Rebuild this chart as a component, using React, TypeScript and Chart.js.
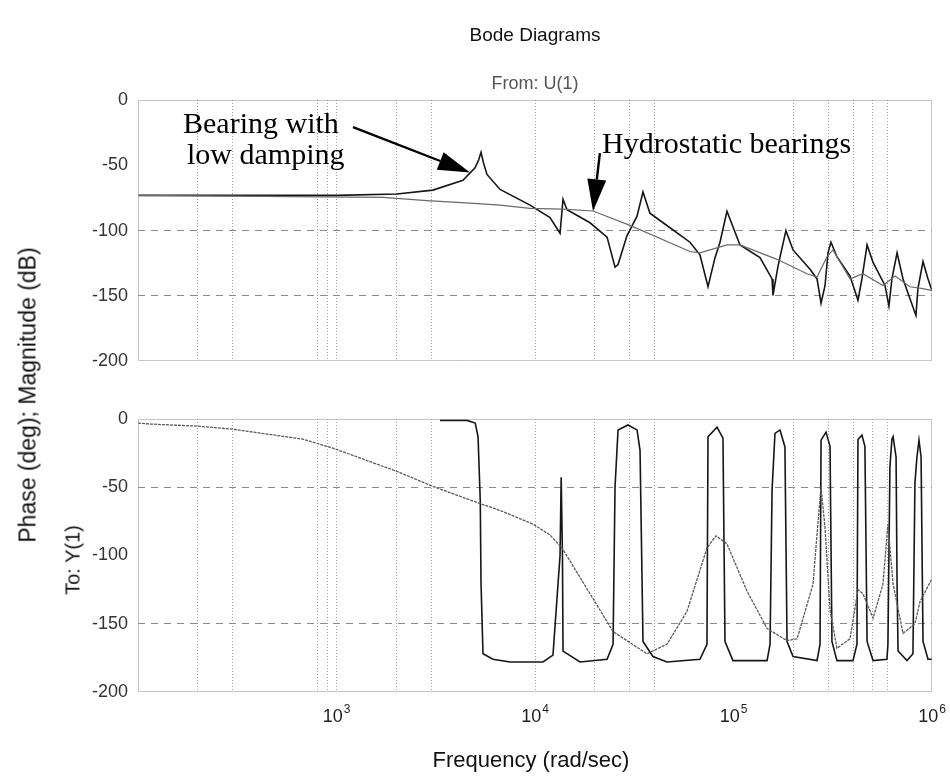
import React, { useEffect, useRef } from 'react';
import { Chart, registerables } from 'chart.js';

Chart.register(...registerables);

const FREQ_MIN = 100;
const FREQ_MAX = 1e6;

// Magnitude (dB), bearing with low damping
const magLowFreq = [
  100, 1000, 2018, 3061, 4335, 4989, 5200, 5346, 5500, 5728, 6668, 9440, 11905, 13370, 13840, 14500,
  18930, 23070, 25300, 26200, 29050, 32660, 35000, 37930, 47860, 60350, 67760, 74400, 80700, 85500,
  92700, 107800, 136000, 156400, 158100, 167500, 183700, 199500, 242900, 263500, 276100, 289200,
  299300, 309700, 331900, 386400, 423700, 443600, 470900, 504700, 579500, 606800, 628100, 666800,
  714500, 829900, 849300, 901000, 955000, 1000000,
];
const magLowDb = [
  -73, -73, -72, -69, -61.5, -52, -46, -40, -48, -57, -68.5, -80.5, -90, -102, -76, -84,
  -94, -105, -128, -126, -104, -89, -70.4, -86.7, -97.8, -108.9, -118.5, -143, -120.7, -108.9,
  -85.2, -111, -120.7, -137, -149.6, -127.4, -100, -114.8, -129.6, -137, -155.6, -142,
  -117, -108.9, -120, -134.8, -153.3, -137, -111, -124.4, -142, -157.8, -137, -117,
  -137, -165, -144.4, -123.7, -137, -146,
];

// Magnitude (dB), hydrostatic bearings
const magHydroFreq = [
  100, 1714, 2858, 4706, 6668, 9440, 13840, 19600, 30100, 60350, 67760, 92700, 107800, 165600,
  234500, 263500, 295800, 317000, 386400, 448700, 566200, 651600, 774500, 901000, 1000000,
];
const magHydroDb = [
  -73, -74.5, -77, -79, -80.5, -83, -83.5, -85, -96, -116, -117, -111, -111, -122,
  -133, -135.6, -120, -114.8, -137, -133, -142, -134.8, -143, -144.4, -146,
];

// Phase (deg), bearing with low damping
const phaseLowFreq = [
  3320, 4540, 5000, 5166, 5300, 5346, 5470, 6139, 7482, 10965, 12320, 13370, 13550, 13750, 13840,
  16860, 23070, 24730, 25300, 26200, 29400, 32660, 33820, 35000, 39280, 46240, 67760, 73500,
  74400, 82600, 88500, 90600, 99400, 147600, 152800, 156400, 161800, 171500, 181600, 186100,
  199500, 263500, 272900, 276100, 292400, 306400, 313300, 331900, 399900, 418800, 423700,
  443600, 459200, 470900, 504700, 592900, 599800, 613800, 628100, 636800, 659200, 666800,
  674500, 748200, 801700, 820400, 839500, 860000, 881000, 901000, 955000, 1000000,
];
const phaseLowDeg = [
  -1, -1, -3, -13, -60, -120, -172, -176, -178, -178, -173, -100, -42.7, -100, -170,
  -178, -176, -165, -50, -8, -4.4, -8, -23, -163, -174, -178, -176, -165,
  -13, -6, -14, -163, -177, -177, -165, -52, -10.5, -8, -20.5, -163,
  -174, -177, -165, -15.5, -9.6, -20, -163, -177, -177, -165, -15,
  -11.8, -20, -163, -177, -176, -165, -35, -15, -13, -28, -121,
  -170, -177, -172, -47, -28, -15.5, -28, -163, -176, -176,
];

// Phase (deg), hydrostatic bearings
const phaseHydroFreq = [
  100, 115, 198, 298, 678, 960, 2018, 3061, 5285, 6668, 9768, 11905, 13680, 18930, 24730, 36650,
  46240, 58290, 73500, 81600, 92700, 116900, 147600, 186100, 209100, 251600, 265000, 276100,
  289200, 306400, 331900, 386400, 423700, 448700, 504700, 566200, 599800, 636800, 714500,
  820400, 871000, 1000000,
];
const phaseHydroDeg = [
  -3, -3.7, -5.2, -7.4, -14.8, -21.4, -38.4, -49.4, -62, -67, -77, -85, -94.5, -128, -155.7, -172,
  -165, -141, -94.5, -85.6, -91.5, -126, -153.5, -162.4, -161, -121, -80, -50,
  -80, -140, -168, -161, -125, -128, -146, -121, -77, -121, -157,
  -150, -133.6, -117,
];

// Axis ticks and visible grid lines
const magTicks = [0, -50, -100, -150, -200];
const phaseTicks = [0, -50, -100, -150, -200];
const magGridValues = [-100, -150];
const phaseGridValues = [-50, -150];
const decadeValues = [1e3, 1e4, 1e5, 1e6];
const decadeExponents = ['3', '4', '5', '6'];
const freqGridValues = [200, 300, 800, 900, 1000, 2000, 3000, 1e4, 2e4, 3e4, 4e4, 2e5, 3e5, 4e5, 5e5, 6e5];

// Annotation arrows, tail and tip in (rad/sec, dB)
const arrowTails = [[1211, -20.7], [21230, -40.7]];
const arrowTips = [[4706, -55.6], [19600, -85.2]];

const SANS = '"Liberation Sans", Arial, Helvetica, sans-serif';
const SERIF = '"Liberation Serif", "Times New Roman", Times, serif';
const CLEAR = 'rgba(0,0,0,0)';
const DARK = '#161616';
const LIGHT = '#6a6a6a';

const toPoints = (xs: number[], ys: number[]) => xs.map((x, i) => ({ x, y: ys[i] }));

const framePlugin = {
  id: 'panelFrame',
  afterDatasetsDraw(chart: any) {
    const { ctx, chartArea: a } = chart;
    ctx.save();
    ctx.strokeStyle = '#8c8c8c';
    ctx.lineWidth = 1;
    ctx.setLineDash([1, 1]);
    ctx.strokeRect(Math.round(a.left) + 0.5, Math.round(a.top) + 0.5, Math.round(a.width) - 1, Math.round(a.height) - 1);
    ctx.restore();
  },
};

// Power-of-ten labels under the frequency axis, with a raised exponent
const decadeLabelPlugin = {
  id: 'decadeLabels',
  afterDraw(chart: any) {
    const { ctx, scales, chartArea } = chart;
    const baseY = chartArea.bottom + 30;
    ctx.save();
    ctx.fillStyle = '#1e1e1e';
    ctx.textBaseline = 'alphabetic';
    ctx.textAlign = 'left';
    decadeValues.forEach((v, i) => {
      const x = scales.x.getPixelForValue(v);
      ctx.font = `18px ${SANS}`;
      const wBase = ctx.measureText('10').width;
      ctx.font = `12px ${SANS}`;
      const wExp = ctx.measureText(decadeExponents[i]).width;
      const left = x - (wBase + wExp + 1) / 2;
      ctx.font = `18px ${SANS}`;
      ctx.fillText('10', left, baseY);
      ctx.font = `12px ${SANS}`;
      ctx.fillText(decadeExponents[i], left + wBase + 1, baseY - 9);
    });
    ctx.restore();
  },
};

const arrowPlugin = {
  id: 'calloutArrows',
  afterDraw(chart: any) {
    const { ctx, scales } = chart;
    ctx.save();
    ctx.fillStyle = '#000';
    ctx.strokeStyle = '#000';
    ctx.lineWidth = 2.4;
    arrowTails.forEach((tail, i) => {
      const tip = arrowTips[i];
      const x0 = scales.x.getPixelForValue(tail[0]);
      const y0 = scales.y.getPixelForValue(tail[1]);
      const x1 = scales.x.getPixelForValue(tip[0]);
      const y1 = scales.y.getPixelForValue(tip[1]);
      const len = Math.hypot(x1 - x0, y1 - y0);
      const ux = (x1 - x0) / len;
      const uy = (y1 - y0) / len;
      const headLen = 32;
      const headHalf = 9.5;
      const bx = x1 - ux * headLen;
      const by = y1 - uy * headLen;
      ctx.beginPath();
      ctx.moveTo(x0, y0);
      ctx.lineTo(bx, by);
      ctx.stroke();
      ctx.beginPath();
      ctx.moveTo(x1, y1);
      ctx.lineTo(bx - uy * headHalf, by + ux * headHalf);
      ctx.lineTo(bx + uy * headHalf, by - ux * headHalf);
      ctx.closePath();
      ctx.fill();
    });
    ctx.restore();
  },
};

function freqAxis(bottomAxis: boolean): any {
  return {
    type: 'logarithmic',
    min: FREQ_MIN,
    max: FREQ_MAX,
    afterBuildTicks: (scale: any) => {
      const vals = Array.from(new Set([...freqGridValues, ...decadeValues])).sort((a, b) => a - b);
      scale.ticks = vals.map((v) => ({ value: v }));
    },
    afterFit: (scale: any) => {
      scale.height = bottomAxis ? 92 : 0;
      scale.paddingLeft = 0;
      scale.paddingRight = 0;
    },
    ticks: {
      display: false,
      autoSkip: false,
      maxRotation: 0,
      minRotation: 0,
    },
    grid: {
      drawTicks: false,
      lineWidth: 1,
      color: (c: any) => (c.tick && freqGridValues.includes(c.tick.value) ? '#9c9c9c' : CLEAR),
    },
    border: { display: false, dash: [1, 2] },
  };
}

function levelAxis(tickValues: number[], gridValues: number[]): any {
  return {
    type: 'linear',
    min: -200,
    max: 0,
    afterBuildTicks: (scale: any) => {
      scale.ticks = tickValues.map((v) => ({ value: v }));
    },
    afterFit: (scale: any) => {
      scale.width = 138;
    },
    ticks: {
      color: '#333',
      padding: 10,
      font: { family: SANS, size: 18 },
      callback: (v: any) => String(v),
    },
    grid: {
      drawTicks: false,
      lineWidth: 1,
      color: (c: any) => (c.tick && gridValues.includes(c.tick.value) ? '#8a8a8a' : CLEAR),
    },
    border: { display: false, dash: [7, 6] },
  };
}

function lineSet(label: string, xs: number[], ys: number[], color: string, width: number, dash: number[]) {
  return {
    label,
    data: toPoints(xs, ys),
    borderColor: color,
    borderWidth: width,
    borderDash: dash,
    pointRadius: 0,
    tension: 0,
    fill: false,
  };
}

function baseOptions(padding: any, yAxis: any, xAxis: any): any {
  return {
    responsive: false,
    maintainAspectRatio: false,
    animation: false,
    events: [],
    layout: { padding },
    plugins: { legend: { display: false }, tooltip: { enabled: false }, title: { display: false } },
    scales: { x: xAxis, y: yAxis },
  };
}

const textBase: React.CSSProperties = {
  position: 'absolute',
  whiteSpace: 'nowrap',
  lineHeight: 1,
  margin: 0,
};

export default function App() {
  const magRef = useRef<HTMLCanvasElement>(null);
  const phaseRef = useRef<HTMLCanvasElement>(null);

  useEffect(() => {
    const magChart = new Chart(magRef.current as HTMLCanvasElement, {
      type: 'line',
      data: {
        datasets: [
          lineSet('Hydrostatic bearings', magHydroFreq, magHydroDb, LIGHT, 1.2, []),
          lineSet('Bearing with low damping', magLowFreq, magLowDb, DARK, 1.6, []),
        ],
      },
      options: baseOptions({ top: 100, right: 18, bottom: 12, left: 0 }, levelAxis(magTicks, magGridValues), freqAxis(false)),
      plugins: [framePlugin, arrowPlugin],
    } as any);

    const phaseChart = new Chart(phaseRef.current as HTMLCanvasElement, {
      type: 'line',
      data: {
        datasets: [
          lineSet('Hydrostatic bearings', phaseHydroFreq, phaseHydroDeg, '#5a5a5a', 1.3, [3, 1]),
          lineSet('Bearing with low damping', phaseLowFreq, phaseLowDeg, DARK, 1.6, []),
        ],
      },
      options: baseOptions({ top: 37, right: 18, bottom: 0, left: 0 }, levelAxis(phaseTicks, phaseGridValues), freqAxis(true)),
      plugins: [framePlugin, decadeLabelPlugin],
    } as any);

    return () => {
      magChart.destroy();
      phaseChart.destroy();
    };
  }, []);

  return (
    <div style={{ position: 'absolute', left: 0, top: 0, width: 950, height: 784, background: '#fff', overflow: 'hidden' }}>
      <canvas ref={magRef} width={950} height={382} style={{ position: 'absolute', left: 0, top: 0 }} />
      <canvas ref={phaseRef} width={950} height={402} style={{ position: 'absolute', left: 0, top: 382 }} />

      <div style={{ ...textBase, left: 535, top: 35, transform: 'translate(-50%, -50%)', font: `19px ${SANS}`, color: '#111' }}>
        Bode Diagrams
      </div>
      <div style={{ ...textBase, left: 535, top: 83, transform: 'translate(-50%, -50%)', font: `18px ${SANS}`, color: '#555' }}>
        From: U(1)
      </div>
      <div style={{ ...textBase, left: 28, top: 395, transform: 'translate(-50%, -50%) rotate(-90deg)', font: `23px ${SANS}`, color: '#111' }}>
        Phase (deg); Magnitude (dB)
      </div>
      <div style={{ ...textBase, left: 73, top: 560, transform: 'translate(-50%, -50%) rotate(-90deg)', font: `20px ${SANS}`, color: '#111' }}>
        To: Y(1)
      </div>
      <div style={{ ...textBase, left: 531, top: 760, transform: 'translate(-50%, -50%)', font: `22px ${SANS}`, color: '#111' }}>
        Frequency (rad/sec)
      </div>

      <div style={{ ...textBase, left: 183, top: 106, font: `30px ${SERIF}`, color: '#000' }}>Bearing with</div>
      <div style={{ ...textBase, left: 187, top: 137, font: `30px ${SERIF}`, color: '#000' }}>low damping</div>
      <div style={{ ...textBase, left: 602, top: 126, font: `30px ${SERIF}`, color: '#000' }}>Hydrostatic bearings</div>
    </div>
  );
}
